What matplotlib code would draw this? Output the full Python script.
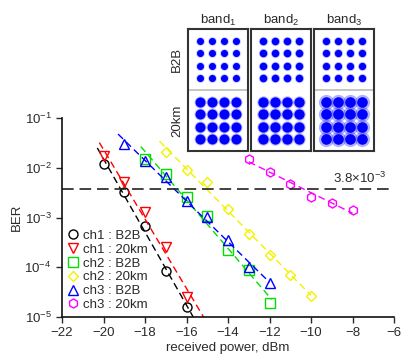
import numpy as np
import matplotlib
matplotlib.use("Agg")
import matplotlib.pyplot as plt

plt.rcParams['font.family'] = ['Liberation Sans', 'DejaVu Sans']
plt.rcParams['mathtext.fontset'] = 'custom'
plt.rcParams['mathtext.rm'] = 'Liberation Sans'
plt.rcParams['mathtext.it'] = 'Liberation Sans:italic'
plt.rcParams['mathtext.sf'] = 'Liberation Sans'

TXT = '#2a2a2a'
FS = 9.5

# BER curves: received power (dBm) vs BER
ch1_b2b_x = [-20, -19, -18, -17, -16]
ch1_b2b_y = [1.2e-2, 3.3e-3, 6.6e-4, 8.3e-5, 1.6e-5]
ch1_20km_x = [-20, -19, -18, -17, -16]
ch1_20km_y = [1.7e-2, 5.2e-3, 1.28e-3, 2.5e-4, 2.5e-5]
ch2_b2b_x = [-18, -17, -16, -15, -14, -13, -12]
ch2_b2b_y = [1.5e-2, 7.6e-3, 2.6e-3, 1.06e-3, 2.2e-4, 8.7e-5, 1.9e-5]
ch2_20km_x = [-17, -16, -15, -14, -13, -12, -11, -10]
ch2_20km_y = [2.06e-2, 9.1e-3, 5.2e-3, 1.49e-3, 4.6e-4, 1.8e-4, 7.0e-5, 2.7e-5]
ch3_b2b_x = [-19, -18, -17, -16, -15, -14, -13, -12]
ch3_b2b_y = [3.0e-2, 1.38e-2, 6.5e-3, 2.1e-3, 1.03e-3, 3.6e-4, 1.0e-4, 4.9e-5]
ch3_20km_x = [-13, -12, -11, -10, -9, -8]
ch3_20km_y = [1.49e-2, 8.1e-3, 4.8e-3, 2.6e-3, 1.93e-3, 1.42e-3]

fec_limit = 3.8e-3

# inset constellations (16-QAM)
bands = ['band$_1$', 'band$_2$', 'band$_3$']
conditions = ['B2B', '20km']
qam_levels = [-3, -1, 1, 3]

series = [
    (ch1_b2b_x, ch1_b2b_y, 'ch1 : B2B', 'black', 'o', (-0.3, 0.8)),
    (ch1_20km_x, ch1_20km_y, 'ch1 : 20km', 'red', 'v', (-0.2, 0.9)),
    (ch2_b2b_x, ch2_b2b_y, 'ch2 : B2B', '#00e000', 's', (-0.2, 0.1)),
    (ch2_20km_x, ch2_20km_y, 'ch2 : 20km', '#f2f200', 'D', (-0.3, 0.0)),
    (ch3_b2b_x, ch3_b2b_y, 'ch3 : B2B', 'blue', '^', (-0.3, 0.0)),
    (ch3_20km_x, ch3_20km_y, 'ch3 : 20km', 'magenta', 'h', (0.0, 0.0)),
]

fig = plt.figure(figsize=(4.01, 3.58), dpi=100)
ax = fig.add_axes([62 / 401, 41 / 358, 332 / 401, 199 / 358])

handles = []
for x, y, lab, col, mk, ext in series:
    x = np.array(x, float)
    ly = np.log10(y)
    p = np.polyfit(x, ly, 1)
    xf = np.array([x.min() + ext[0], x.max() + ext[1]])
    ax.plot(xf, 10 ** np.polyval(p, xf), ls=(0, (5, 3)), color=col, lw=1.0)
    ms = 6.5 if mk != 'D' else 5.5
    h, = ax.plot(x, y, ls='none', marker=mk, mfc='none', mec=col, mew=1.0, ms=ms, label=lab)
    handles.append(h)

ax.axhline(fec_limit, color='#222222', lw=1.2, ls=(0, (7, 3.5)))
ax.annotate('3.8$\\times$10$^{-3}$', xy=(-6.4, fec_limit), xytext=(0, 2), textcoords='offset points',
            ha='right', va='bottom', fontsize=FS, color=TXT)

ax.set_yscale('log')
ax.set_xlim(-22, -6)
ax.set_ylim(1e-5, 1e-1)
ax.set_xticks(np.arange(-22, -5, 2))
ax.set_yticks([1e-5, 1e-4, 1e-3, 1e-2, 1e-1])
ax.minorticks_off()
ax.tick_params(labelsize=FS, colors=TXT, direction='out', length=4, width=1)
for s in ['top', 'right']:
    ax.spines[s].set_visible(False)
for s in ['left', 'bottom']:
    ax.spines[s].set_color('#111111')
    ax.spines[s].set_linewidth(1.2)
ax.set_xlabel('received power, dBm', fontsize=FS, color=TXT, labelpad=2)
ax.set_ylabel('BER', fontsize=FS, color=TXT, labelpad=1)

ax.legend(handles=handles, loc='lower left', bbox_to_anchor=(0.012, 0.03), frameon=False,
          fontsize=FS, labelspacing=0.12, handlelength=1.0, handletextpad=0.3,
          borderpad=0, borderaxespad=0, labelcolor=TXT)

# inset constellation panels
blob = {
    (0, 'B2B'): (26, 40, 0.2), (0, '20km'): (52, 75, 0.25),
    (1, 'B2B'): (30, 46, 0.2), (1, '20km'): (55, 82, 0.25),
    (2, 'B2B'): (28, 44, 0.2), (2, '20km'): (58, 120, 0.3),
}
gx, gy = np.meshgrid(qam_levels, qam_levels)
box_left = [188, 251, 314]
for i, name in enumerate(bands):
    iax = fig.add_axes([box_left[i] / 401, (358 - 150.7) / 358, 60 / 401, 121.4 / 358])
    iax.set_xlim(-4.9, 4.9)
    iax.set_ylim(-9.85, 9.85)
    iax.set_xticks([])
    iax.set_yticks([])
    for s in iax.spines.values():
        s.set_color('#333333')
        s.set_linewidth(1.5)
    if i != 1:
        iax.axhline(0, color='#bbbbbb', lw=1.2)
    for cond, yc in zip(conditions, [4.93, -4.93]):
        core, halo, a = blob[(i, cond)]
        iax.scatter(gx.ravel(), gy.ravel() + yc, s=halo, color='blue', alpha=a, lw=0)
        iax.scatter(gx.ravel(), gy.ravel() + yc, s=core, color='blue', lw=0)
    iax.set_title(name, fontsize=FS, color=TXT, pad=4)
    if i == 0:
        iax.text(-0.18, 0.75, 'B2B', rotation=90, transform=iax.transAxes,
                 ha='center', va='center', fontsize=FS, color=TXT)
        iax.text(-0.18, 0.25, '20km', rotation=90, transform=iax.transAxes,
                 ha='center', va='center', fontsize=FS, color=TXT)

fig.savefig('out.png', dpi=100)
